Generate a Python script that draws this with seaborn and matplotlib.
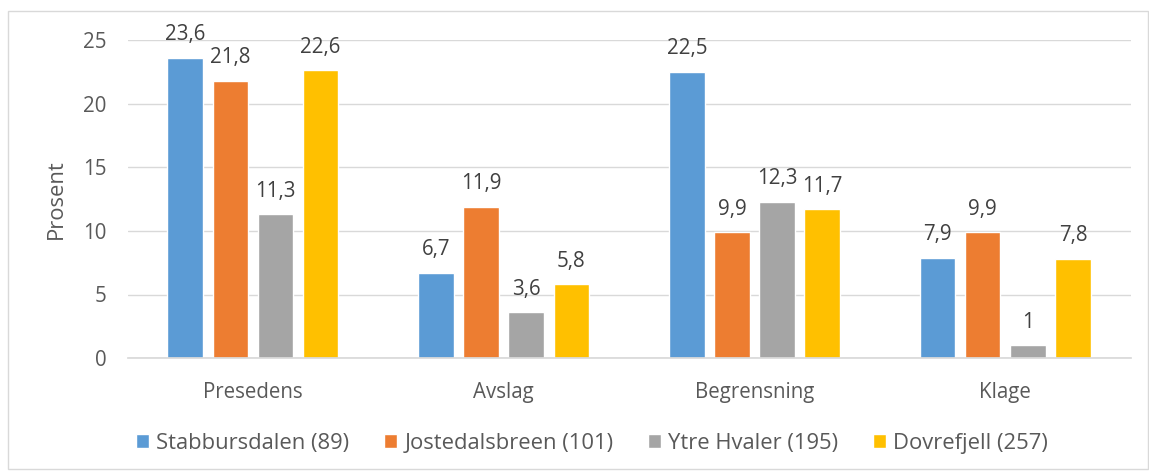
import matplotlib
matplotlib.use("Agg")
import matplotlib.pyplot as plt
import seaborn as sns
import pandas as pd
from matplotlib.patches import Rectangle

categories = ["Presedens", "Avslag", "Begrensning", "Klage"]
series = ["Stabbursdalen (89)", "Jostedalsbreen (101)", "Ytre Hvaler (195)", "Dovrefjell (257)"]
stabbursdalen = [23.6, 6.7, 22.5, 7.9]
jostedalsbreen = [21.8, 11.9, 9.9, 9.9]
ytre_hvaler = [11.3, 3.6, 12.3, 1.0]
dovrefjell = [22.6, 5.8, 11.7, 7.8]
colors = ["#5B9BD5", "#ED7D31", "#A5A5A5", "#FFC000"]

rows = []
for name, vals in zip(series, [stabbursdalen, jostedalsbreen, ytre_hvaler, dovrefjell]):
    for cat, v in zip(categories, vals):
        rows.append({"Kategori": cat, "Serie": name, "Prosent": v})
df = pd.DataFrame(rows)

sns.set_theme(style="white")
plt.rcParams["font.family"] = ["Open Sans", "DejaVu Sans"]
text_color = "#595959"
fs = 14.8

fig = plt.figure(figsize=(11.49, 4.75), dpi=100)
ax = fig.add_axes([0.111, 0.246, 0.873, 0.670])

sns.barplot(data=df, x="Kategori", y="Prosent", hue="Serie", order=categories,
            hue_order=series, palette=colors, width=0.72, gap=0.21,
            saturation=1, ax=ax, legend=True)

for cont in ax.containers:
    ax.bar_label(cont, labels=[f"{b.get_height():g}".replace(".", ",") for b in cont],
                 padding=9, fontsize=fs, color="#404040")

ax.set_ylim(0, 25)
ax.set_yticks([0, 5, 10, 15, 20, 25])
ax.yaxis.grid(True, color="#D9D9D9", linewidth=1)
ax.set_axisbelow(True)
for s in ["top", "right", "left"]:
    ax.spines[s].set_visible(False)
ax.spines["bottom"].set_color("#D9D9D9")
ax.tick_params(axis="both", colors=text_color, labelsize=fs, length=0)
ax.tick_params(axis="y", pad=15)
ax.tick_params(axis="x", pad=17)
ax.set_xlabel("")
ax.set_ylabel("Prosent", fontsize=fs + 1, color=text_color, labelpad=12)

handles, labels = ax.get_legend_handles_labels()
ax.legend_.remove()
fig.legend(handles, labels, loc="center left", bbox_to_anchor=(0.118, 0.067),
           ncol=4, frameon=False, fontsize=15.8, labelcolor=text_color,
           handlelength=0.6, handleheight=0.6, handletextpad=0.35, columnspacing=1.55,
           borderaxespad=0, borderpad=0)

fig.patches.append(Rectangle((0.007, 0.012), 0.992, 0.965, transform=fig.transFigure,
                             fill=False, edgecolor="#D9D9D9", linewidth=1))

fig.savefig("out.png", dpi=100, facecolor="white")
